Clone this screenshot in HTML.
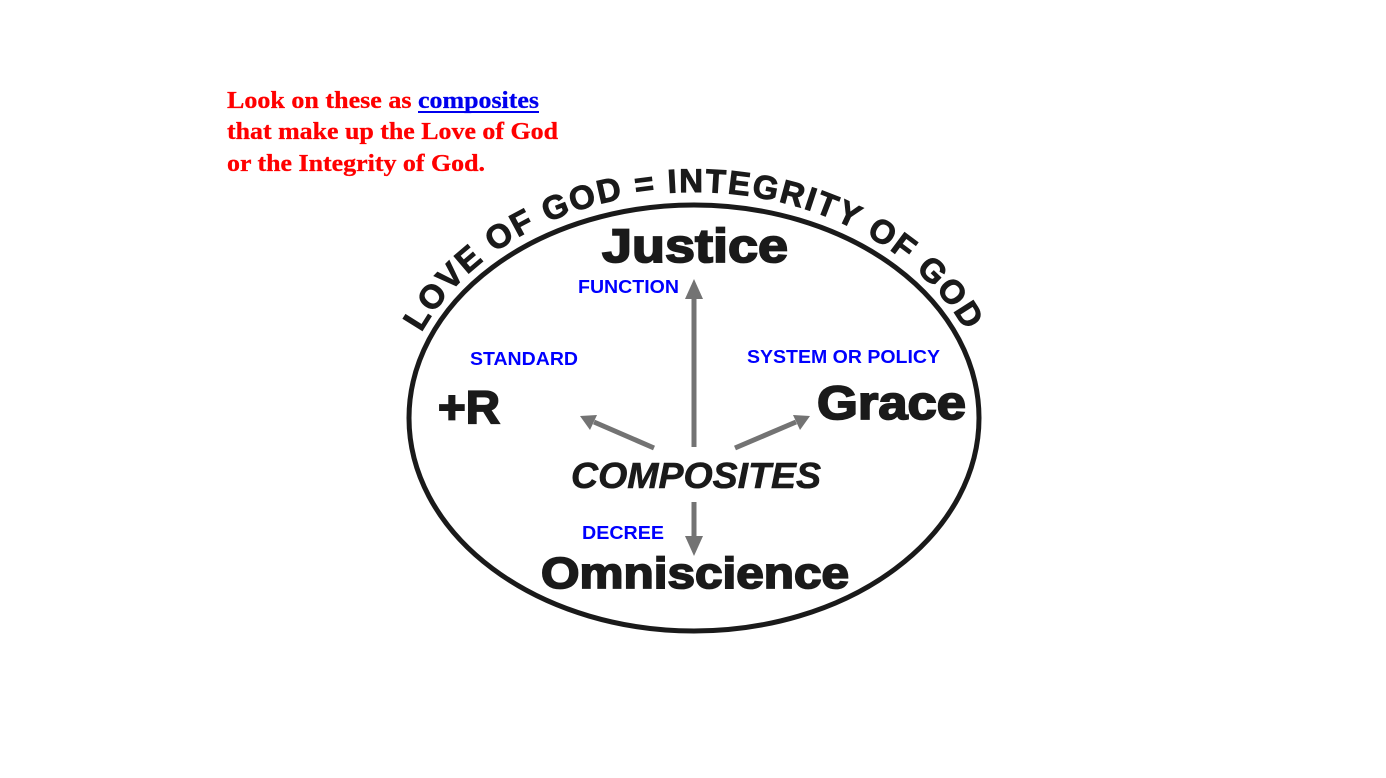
<!DOCTYPE html>
<html><head><meta charset="utf-8"><style>
html,body{margin:0;padding:0;background:#fff;width:1386px;height:778px;overflow:hidden}
</style></head><body>
<svg width="1386" height="778" viewBox="0 0 1386 778" xmlns="http://www.w3.org/2000/svg">
<g font-family="'Liberation Serif',serif" font-weight="bold" font-size="24" fill="#ff0000" stroke="#ff0000" stroke-width="0.3">
<text x="227" y="108"><tspan textLength="191" lengthAdjust="spacingAndGlyphs">Look on these as </tspan><tspan x="418" fill="#0000ee" stroke="#0000ee" textLength="121" lengthAdjust="spacingAndGlyphs">composites</tspan></text>
<rect x="418" y="111" width="121" height="2" fill="#0000ee" stroke="none"/>
<text x="227" y="139" textLength="331" lengthAdjust="spacingAndGlyphs">that make up the Love of God</text>
<text x="227" y="171" textLength="258" lengthAdjust="spacingAndGlyphs">or the Integrity of God.</text>
</g>
<ellipse cx="694" cy="418" rx="285" ry="213" fill="none" stroke="#1a1a1a" stroke-width="5"/>
<defs><path id="arc" d="M 396,428 A 298 236 0 0 1 992,428"/></defs>
<text font-family="'Liberation Sans',sans-serif" font-weight="bold" font-size="33" fill="#1a1a1a" stroke="#1a1a1a" stroke-width="1" letter-spacing="2"><textPath href="#arc" startOffset="50%" text-anchor="middle">LOVE OF GOD = INTEGRITY OF GOD</textPath></text>
<g font-family="'Liberation Sans',sans-serif" font-weight="bold" fill="#1a1a1a" stroke="#1a1a1a" stroke-width="1.8">
<text x="602" y="262" font-size="47" textLength="186" lengthAdjust="spacingAndGlyphs">Justice</text>
<text x="438" y="423" font-size="46" textLength="62" lengthAdjust="spacingAndGlyphs">+R</text>
<text x="817" y="419" font-size="47" textLength="149" lengthAdjust="spacingAndGlyphs">Grace</text>
<text x="571" y="488" font-size="36" font-style="italic" stroke-width="0.6" textLength="250" lengthAdjust="spacingAndGlyphs">COMPOSITES</text>
<text x="541" y="588" font-size="44" textLength="308" lengthAdjust="spacingAndGlyphs">Omniscience</text>
</g>
<g font-family="'Liberation Sans',sans-serif" font-weight="bold" font-size="18" fill="#0000ff">
<text x="578" y="293" textLength="101" lengthAdjust="spacingAndGlyphs">FUNCTION</text>
<text x="470" y="365" textLength="108" lengthAdjust="spacingAndGlyphs">STANDARD</text>
<text x="747" y="363" textLength="193" lengthAdjust="spacingAndGlyphs">SYSTEM OR POLICY</text>
<text x="582" y="539" textLength="82" lengthAdjust="spacingAndGlyphs">DECREE</text>
</g>
<g stroke="#737373" stroke-width="5" fill="none">
<line x1="694" y1="447" x2="694" y2="296"/>
<line x1="654" y1="448" x2="594" y2="422"/>
<line x1="735" y1="448" x2="796" y2="422"/>
<line x1="694" y1="502" x2="694" y2="540"/>
</g>
<g fill="#737373">
<polygon points="694,279 685,299 703,299"/>
<polygon points="580,416 597,415 590,430"/>
<polygon points="810,416 793,415 800,430"/>
<polygon points="694,556 685,536 703,536"/>
</g>
</svg>
</body></html>
